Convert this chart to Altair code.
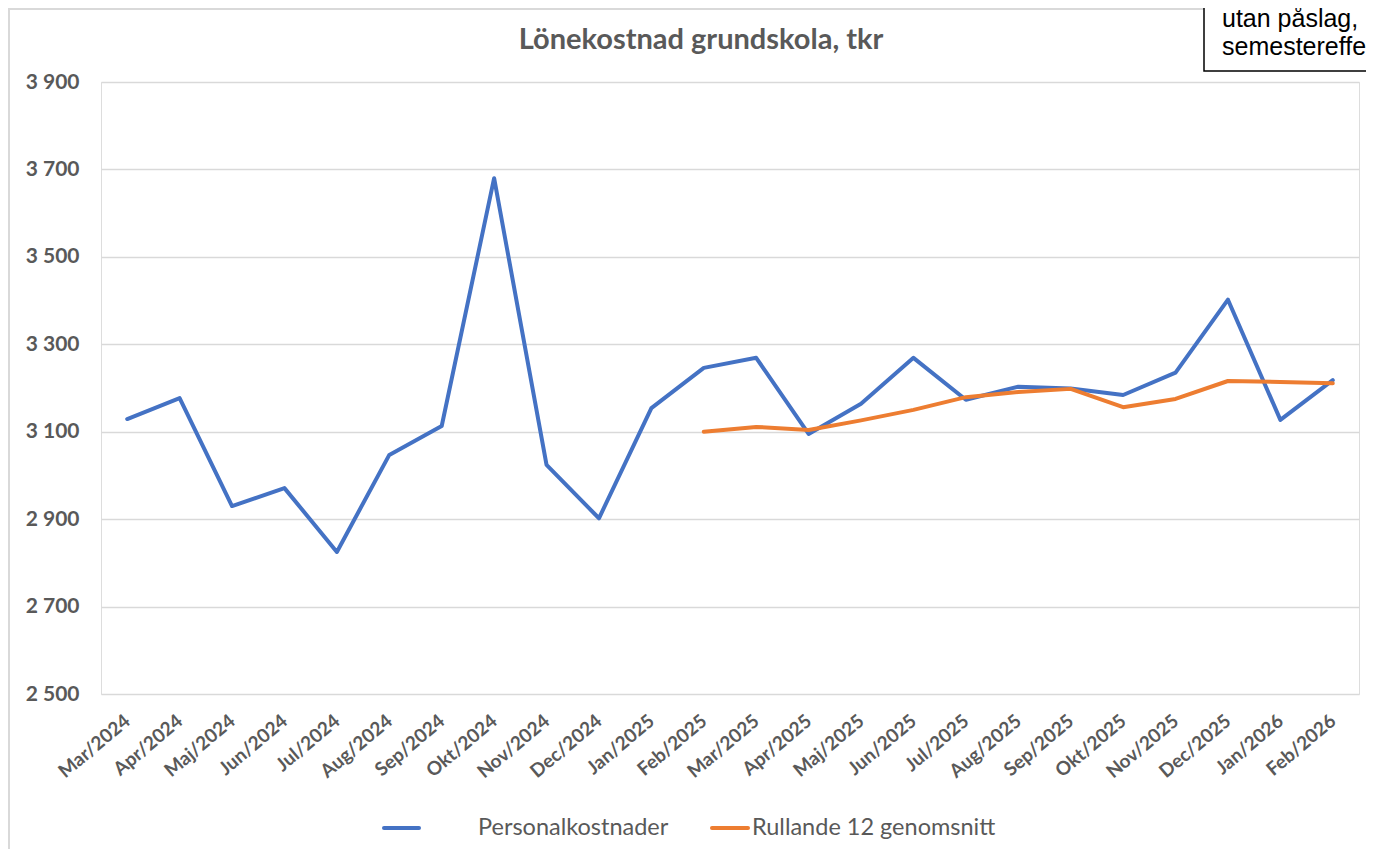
import altair as alt
import pandas as pd

months = ["Mar/2024", "Apr/2024", "Maj/2024", "Jun/2024", "Jul/2024", "Aug/2024",
          "Sep/2024", "Okt/2024", "Nov/2024", "Dec/2024", "Jan/2025", "Feb/2025",
          "Mar/2025", "Apr/2025", "Maj/2025", "Jun/2025", "Jul/2025", "Aug/2025",
          "Sep/2025", "Okt/2025", "Nov/2025", "Dec/2025", "Jan/2026", "Feb/2026"]

personal = [3129, 3177, 2930, 2971, 2825, 3047, 3113, 3680, 3024, 2902, 3154, 3246,
            3269, 3095, 3164, 3269, 3173, 3203, 3199, 3184, 3235, 3402, 3127, 3218]

rullande_months = months[11:]
rullande = [3100, 3111, 3104, 3126, 3150, 3179, 3191, 3198, 3156, 3175, 3216, 3214, 3211]

series_names = ["Personalkostnader", "Rullande 12 genomsnitt"]
series_colors = ["#4472C4", "#ED7D31"]
y_ticks = [2500, 2700, 2900, 3100, 3300, 3500, 3700, 3900]

title_text = "Lönekostnad grundskola, tkr"
box_lines = ["utan påslag,", "semestereffekt"]

rows = [{"month": m, "series": series_names[0], "value": v} for m, v in zip(months, personal)]
rows += [{"month": m, "series": series_names[1], "value": v} for m, v in zip(rullande_months, rullande)]
df = pd.DataFrame(rows)

W, H = 1258, 612
GRAY = "#595959"

x_enc = alt.X("month:N", sort=months, title=None,
              scale=alt.Scale(type="point", padding=0.5),
              axis=alt.Axis(labelAngle=-40, labelAlign="right", labelBaseline="middle",
                            labelPadding=24, ticks=False, domain=False, grid=False,
                            labelFont="Lato", labelFontWeight="bold", labelFontSize=19,
                            labelColor=GRAY))
y_enc = alt.Y("value:Q", title=None,
              scale=alt.Scale(domain=[2500, 3900], nice=False, zero=False),
              axis=alt.Axis(values=y_ticks, grid=True, gridColor="#d9d9d9", gridWidth=1.5,
                            domain=False, ticks=False, labelPadding=22,
                            labelFont="Lato", labelFontWeight="bold", labelFontSize=21,
                            labelColor=GRAY,
                            labelExpr="replace(format(datum.value, ','), ',', ' ')"))

color_enc = alt.Color("series:N", scale=alt.Scale(domain=series_names, range=series_colors),
                      legend=None)

lines = alt.Chart(df).mark_line(strokeWidth=4, strokeCap="round", strokeJoin="round").encode(
    x=x_enc, y=y_enc, color=color_enc,
    order=alt.Order("series:N")
)

one = alt.Data(values=[{"a": 1}])

# chart frame (left and top edges)
frame_left = alt.Chart(one).mark_rule(color="#d9d9d9", strokeWidth=2).encode(
    x=alt.value(-92), y=alt.value(-74), y2=alt.value(800))
frame_top = alt.Chart(one).mark_rule(color="#d9d9d9", strokeWidth=2).encode(
    x=alt.value(-93), x2=alt.value(1110), y=alt.value(-73))

title = alt.Chart(one).mark_text(text=title_text, font="Lato", fontWeight="bold",
                                 fontSize=29, color=GRAY, align="center",
                                 baseline="alphabetic").encode(
    x=alt.value(600), y=alt.value(-33))

# legend drawn manually
leg_df = pd.DataFrame({
    "series": series_names,
    "x1": [283, 611], "x2": [318, 647], "tx": [377, 651],
})
leg_lines = alt.Chart(leg_df).mark_rule(strokeWidth=4, strokeCap="round").encode(
    x=alt.X("x1:Q", scale=None), x2="x2:Q", y=alt.value(746),
    color=alt.Color("series:N", scale=alt.Scale(domain=series_names, range=series_colors),
                    legend=None))
leg_text = alt.Chart(leg_df).mark_text(font="Lato", fontSize=23.5, color=GRAY, align="left",
                                       baseline="middle").encode(
    x=alt.X("tx:Q", scale=None), y=alt.value(746), text="series:N")

# note box in the top-right corner (partly outside the picture, as in the original)
box = alt.Chart(one).mark_rect(fill="white", stroke="black", strokeWidth=1.5).encode(
    x=alt.value(1103), x2=alt.value(1400), y=alt.value(-120), y2=alt.value(-11))
box_df = pd.DataFrame({"t": box_lines, "yy": [-55, -27]})
box_text = alt.Chart(box_df).mark_text(font="Liberation Sans", fontSize=25, color="black",
                                       align="left", baseline="alphabetic").encode(
    x=alt.value(1121), y=alt.Y("yy:Q", scale=None), text="t:N")

chart = alt.layer(frame_left, frame_top, lines, title, leg_lines, leg_text, box, box_text).properties(
    width=W, height=H,
    autosize=alt.AutoSizeParams(type="none"),
    padding={"left": 93, "top": 74, "right": 7, "bottom": 155},
).resolve_scale(color="independent").configure_view(stroke=None).configure(background="white")

chart.save("out.html", embed_options={"renderer": "svg", "actions": False})
